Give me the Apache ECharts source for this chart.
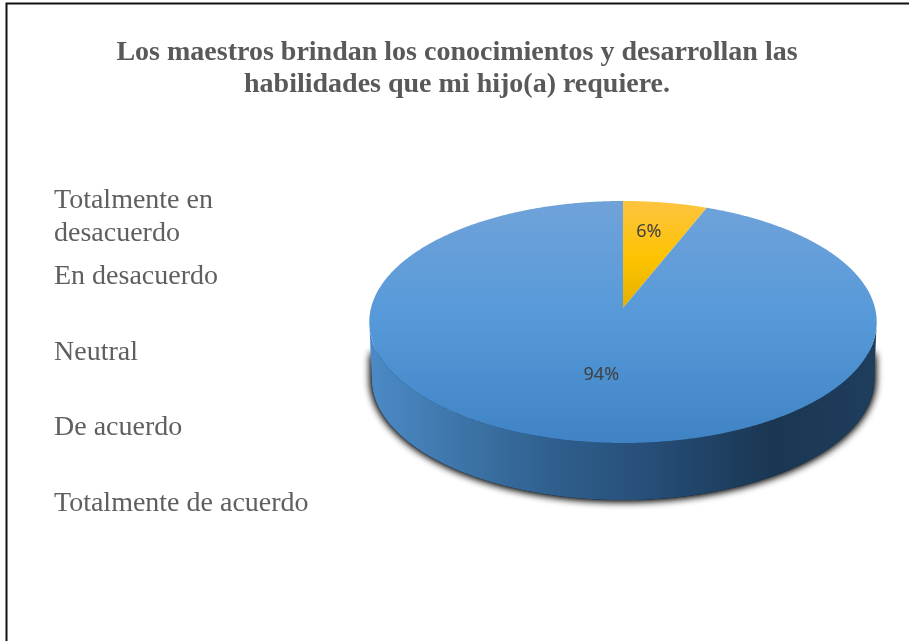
<!DOCTYPE html>
<html lang="es">
<head>
<meta charset="utf-8">
<title>Los maestros brindan los conocimientos</title>
<style>html,body{margin:0;padding:0;background:#fff}#chart{width:909px;height:641px}</style>
<script src="https://cdn.jsdelivr.net/npm/echarts@6/dist/echarts.min.js"></script>
</head>
<body>
<div id="chart"></div>
<script>
// Survey answers and their share of responses, in percent
const categories = ['Totalmente en desacuerdo', 'En desacuerdo', 'Neutral', 'De acuerdo', 'Totalmente de acuerdo'];
const shares = [0, 0, 0, 6, 94];
const chartTitle = 'Los maestros brindan los conocimientos y desarrollan las\nhabilidades que mi hijo(a) requiere.';

// Tilted-disc projection: apex on screen, radii and perspective strength
const disc = { cx: 623, cy: 308, rx: 252, ry: 119.4, persp: -0.1157, depth: 57, baseScale: 0.99 };
const serif = '"Liberation Serif", "Times New Roman", serif';

// Rim angle at which the projected disc is widest: the wall's outline starts here
const widestAngle = Math.acos(disc.persp) * 180 / Math.PI;

const project = (u, v, scale) => {
  const d = 1 + disc.persp * v;
  return [disc.cx + disc.rx * scale * u / d, disc.cy + disc.ry * v / d];
};
// Position on the rim, angle measured clockwise from twelve o'clock
const onDisc = (deg, r, scale = 1) => {
  const a = deg * Math.PI / 180;
  return project(r * Math.sin(a), -r * Math.cos(a), scale);
};
const arcPoints = (from, to, scale = 1, dy = 0) => {
  const n = Math.max(2, Math.ceil((to - from) * 2));
  const pts = [];
  for (let i = 0; i <= n; i++) {
    const p = onDisc(from + (to - from) * i / n, 1, scale);
    pts.push([p[0], p[1] + dy]);
  }
  return pts;
};

const topFill = [
  { offset: 0, color: '#70a2d9' }, { offset: 0.5, color: '#5599d9' }, { offset: 1, color: '#3f83c4' }
];
const goldFill = [
  { offset: 0, color: '#fdc440' }, { offset: 0.55, color: '#fdc300' }, { offset: 1, color: '#e3b000' }
];
const wallFill = [
  { offset: 0, color: '#4c8ac7' }, { offset: 0.12, color: '#427cb2' }, { offset: 0.35, color: '#30608f' },
  { offset: 0.55, color: '#264e78' }, { offset: 0.8, color: '#1a3652' }, { offset: 1, color: '#1f3e5d' }
];
const sliceFills = [topFill, topFill, topFill, goldFill, topFill];

const sliceRenderer = idx => (params, api) => {
  const start = api.value(0), end = api.value(1);
  if (end <= start) return null;
  const a0 = start / 100 * 360, a1 = end / 100 * 360;
  const children = [];

  // Visible wall: the rim section facing the viewer, extruded downward
  const w0 = Math.max(a0, widestAngle), w1 = Math.min(a1, 360 - widestAngle);
  if (w1 > w0) {
    const lower = arcPoints(w0, w1, disc.baseScale, disc.depth);
    // Soft contact shadow: it hugs the lower rim and fades out partway up the wall
    const first = lower[0], last = lower[lower.length - 1];
    const shadowOutline = [[first[0], first[1] - 25]].concat(lower, [[last[0], last[1] - 25]]);
    for (let pass = 0; pass < 2; pass++) {
      children.push({
        type: 'polygon',
        shape: { points: shadowOutline },
        style: { fill: '#1a3652', shadowBlur: 9, shadowColor: 'rgba(0,0,0,1)' }
      });
    }
    children.push({
      type: 'polygon',
      shape: { points: arcPoints(w0, w1).concat(lower.slice().reverse()) },
      style: { fill: new echarts.graphic.LinearGradient(0, 0, 1, 0, wallFill) }
    });
  }
  // Top face of the slice
  children.push({
    type: 'polygon',
    shape: { points: [[disc.cx, disc.cy]].concat(arcPoints(a0, a1)) },
    style: { fill: new echarts.graphic.LinearGradient(0, 0, 0, 1, sliceFills[idx]) }
  });
  // Percentage label inside the slice
  const share = end - start;
  const small = share < 50;
  const at = onDisc(a0 + (a1 - a0) * (small ? 0.42 : 0.494), small ? 0.7 : 0.53);
  children.push({
    type: 'text',
    x: at[0], y: at[1],
    style: {
      text: share + '%', align: 'center', verticalAlign: 'middle',
      font: '18px "Noto Sans", sans-serif', fill: '#404040'
    }
  });
  return { type: 'group', children };
};

let running = 0;
const series = categories.map((name, i) => {
  const start = running;
  running += shares[i];
  return {
    type: 'custom',
    name,
    coordinateSystem: 'none',
    silent: true,
    renderItem: sliceRenderer(i),
    data: [[start, running]]
  };
});

const legendBase = {
  orient: 'vertical', left: 44, icon: 'rect', itemWidth: 0, itemHeight: 0, selectedMode: false,
  textStyle: { fontFamily: serif, fontSize: 28, color: '#5f5f5f', lineHeight: 33, padding: 0 }
};

const chart = echarts.init(document.getElementById('chart'), null, { renderer: 'canvas' });
chart.setOption({
  animation: false,
  backgroundColor: '#fff',
  title: {
    text: chartTitle,
    left: 452, top: 32, textAlign: 'center',
    textStyle: { fontFamily: serif, fontSize: 28, fontWeight: 'bold', color: '#595959', lineHeight: 32 }
  },
  legend: [
    Object.assign({}, legendBase, {
      top: 179, data: [categories[0]],
      formatter: n => n.replace(' en ', ' en\n')
    }),
    Object.assign({}, legendBase, { top: 255.5, itemGap: 42.4, data: categories.slice(1) })
  ],
  graphic: [
    // Frame around the chart area, running off the right and bottom edges
    { type: 'rect', silent: true, shape: { x: 6.5, y: 3.5, width: 1000, height: 1000 },
      style: { fill: 'none', stroke: '#111', lineWidth: 2 } }
  ],
  series
});
</script>
</body>
</html>
